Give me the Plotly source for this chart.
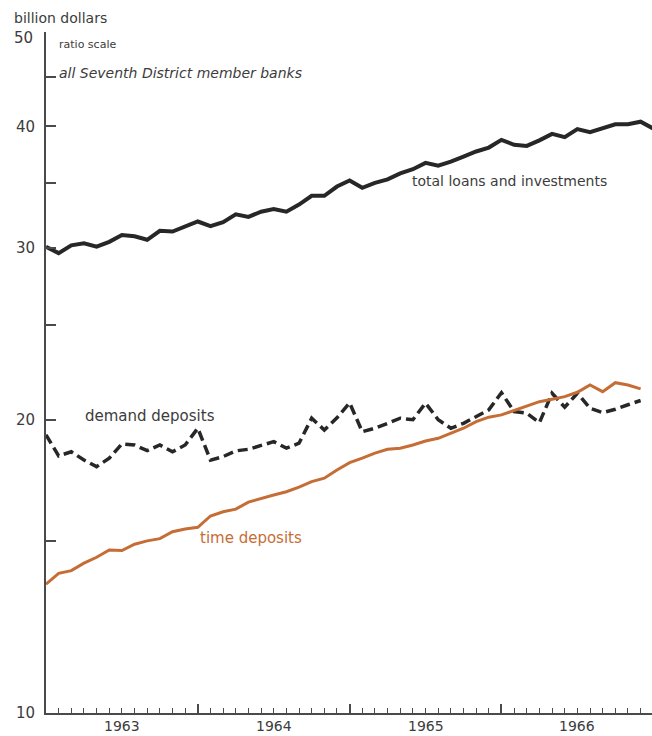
import plotly.graph_objects as go

# Monthly observations, January 1963 onward (billion dollars)
months_loans = list(range(49))
total_loans = [30.1, 29.65, 30.2, 30.35, 30.1, 30.45, 30.95, 30.85, 30.6, 31.25, 31.2, 31.55,
               31.95, 31.6, 31.9, 32.5, 32.3, 32.7, 32.9, 32.7, 33.25, 33.95, 33.95, 34.7,
               35.2, 34.6, 35.0, 35.3, 35.8, 36.15, 36.7, 36.45, 36.8, 37.25, 37.7, 38.05,
               38.75, 38.3, 38.2, 38.7, 39.3, 39.0, 39.75, 39.45, 39.85, 40.2, 40.2, 40.45,
               39.8]

months = list(range(48))
demand_deposits = [19.3, 18.36, 18.54, 18.18, 17.9, 18.26, 18.89, 18.84, 18.59, 18.84, 18.54, 18.84,
                   19.6, 18.18, 18.33, 18.58, 18.65, 18.8, 18.99, 18.7, 18.92, 20.07, 19.52, 20.09,
                   20.81, 19.44, 19.6, 19.83, 20.07, 20.0, 20.8, 20.0, 19.6, 19.83, 20.15, 20.47,
                   21.32, 20.39, 20.31, 19.86, 21.29, 20.6, 21.29, 20.55, 20.34, 20.5, 20.72, 20.93]

time_deposits = [13.56, 13.91, 14.0, 14.25, 14.45, 14.7, 14.68, 14.9, 15.02, 15.1, 15.35, 15.45,
                 15.51, 15.93, 16.09, 16.19, 16.46, 16.61, 16.74, 16.87, 17.05, 17.28, 17.42, 17.76,
                 18.07, 18.26, 18.48, 18.65, 18.7, 18.84, 19.02, 19.14, 19.37, 19.6, 19.91, 20.12,
                 20.23, 20.43, 20.63, 20.87, 20.99, 21.12, 21.34, 21.71, 21.37, 21.83, 21.71, 21.51]

years = ["1963", "1964", "1965", "1966"]
year_mid = [6, 18, 30, 42]
year_bounds = [12, 24, 36]

y_ticks = [10, 15, 20, 25, 30, 35, 40, 45, 50]
y_labels = ["10", "", "20", "", "30", "", "40", "", ""]
top_label = "50"

BLACK = "#272727"
ORANGE = "#c66d36"
AXIS = "#4a4a4a"
TEXT = "#3c3c3c"
FONT = "DejaVu Sans"

fig = go.Figure()
fig.add_trace(go.Scatter(x=months_loans, y=total_loans, mode="lines",
                         line=dict(color=BLACK, width=4)))
fig.add_trace(go.Scatter(x=months, y=demand_deposits, mode="lines",
                         line=dict(color=BLACK, width=3.5, dash="10px,5px")))
fig.add_trace(go.Scatter(x=months, y=time_deposits, mode="lines",
                         line=dict(color=ORANGE, width=3)))

# plot area: left 46, right 652, top 32, bottom 713 (pixels)
L, R, T, B = 46, 652, 32, 713
W, H = R - L, B - T


def px(x):
    return (x - L) / W


def py(y):
    return (B - y) / H


ann = [
    dict(text="billion dollars", x=px(12), y=py(18), size=14, color=TEXT),
    dict(text=top_label, x=px(12), y=py(38), size=15, color=TEXT),
    dict(text="ratio scale", x=px(57), y=py(44), size=11, color=TEXT),
    dict(text="<i>all Seventh District member banks</i>", x=px(57), y=py(73), size=14, color=TEXT),
    dict(text="total loans and investments", x=px(410), y=py(181), size=14, color=TEXT),
    dict(text="demand deposits", x=px(83), y=py(416), size=15, color=TEXT),
    dict(text="time deposits", x=px(198), y=py(538), size=15, color=ORANGE),
]
annotations = [
    dict(text=a["text"], x=a["x"], y=a["y"], xref="paper", yref="paper",
         xanchor="left", yanchor="middle", showarrow=False,
         font=dict(family=FONT, size=a["size"], color=a["color"]))
    for a in ann
]
for yr, xm in zip(years, year_mid):
    annotations.append(dict(text=yr, x=xm, y=py(736), xref="x", yref="paper",
                            xanchor="center", yanchor="bottom", showarrow=False,
                            font=dict(family=FONT, size=14, color=TEXT)))

fig.update_layout(
    width=652, height=736,
    margin=dict(l=L, r=652 - R, t=T, b=736 - B, pad=0),
    paper_bgcolor="white", plot_bgcolor="white",
    showlegend=False,
    annotations=annotations,
    xaxis=dict(
        range=[0, 47.9], showgrid=False, zeroline=False,
        showline=True, linecolor=AXIS, linewidth=2,
        tickmode="array", tickvals=year_bounds, ticktext=["", "", ""],
        ticks="inside", ticklen=9, tickwidth=1.5, tickcolor=AXIS,
        minor=dict(tickmode="linear", dtick=1, tick0=0, ticks="inside", ticklen=5,
                   tickwidth=1.2, tickcolor=AXIS, showgrid=False),
    ),
    yaxis=dict(
        type="log", range=[1, 1.69897], showgrid=False, zeroline=False,
        showline=True, linecolor=AXIS, linewidth=2,
        tickmode="array", tickvals=y_ticks, ticktext=y_labels,
        ticks="inside", ticklen=10, tickwidth=1.5, tickcolor=AXIS,
        tickfont=dict(family=FONT, size=15, color=TEXT),
        ticklabelstandoff=6,
    ),
)

fig.write_html("out.html")
